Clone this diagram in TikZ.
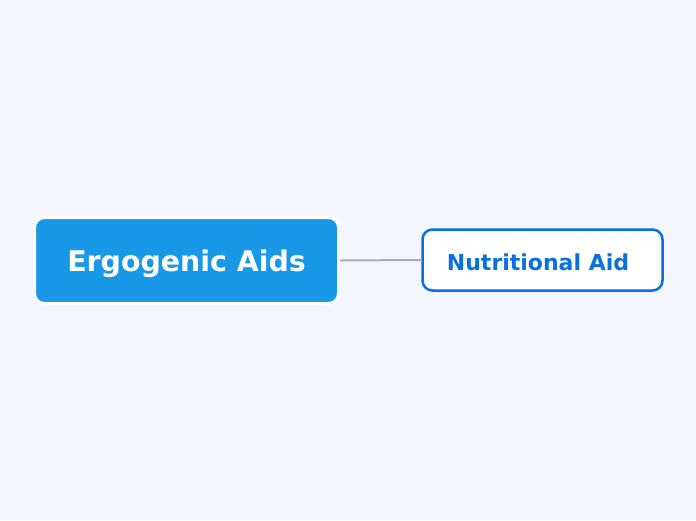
\documentclass[tikz,border=0pt]{standalone}
\usepackage{fontspec}
\setmainfont{DejaVu Sans}
\definecolor{bg}{HTML}{F3F6FF}
\definecolor{mainblue}{HTML}{1A98E8}
\definecolor{subblue}{HTML}{0A70E0}
\definecolor{linegray}{HTML}{A8ADB5}
\begin{document}
\begin{tikzpicture}[x=1pt,y=-1pt,
  mainbox/.style={draw=white,line width=3pt,fill=mainblue,rounded corners=10pt,minimum width=304pt,minimum height=86pt,inner sep=0pt},
  subbox/.style={draw=subblue,line width=2.5pt,fill=white,rounded corners=10pt,minimum width=240pt,minimum height=61pt,inner sep=0pt},
  conn/.style={draw=linegray,line width=2pt}]
\fill[bg] (0,0) rectangle (696,520);
\useasboundingbox (0,0) rectangle (696,520);
\node[mainbox] (main) at (186.5,260.5) {};
\node[text=white,font=\bfseries\fontsize{28.4}{32}\selectfont] (maintext) at (186.5,263.5) {Ergogenic Aids};
\node[subbox] (sub) at (542.5,260) {};
\node[text=subblue,font=\bfseries\fontsize{22}{26}\selectfont] (subtext) at (538,262) {Nutritional Aid};
\draw[conn] (main.east) -- (sub.west);
\end{tikzpicture}
\end{document}
